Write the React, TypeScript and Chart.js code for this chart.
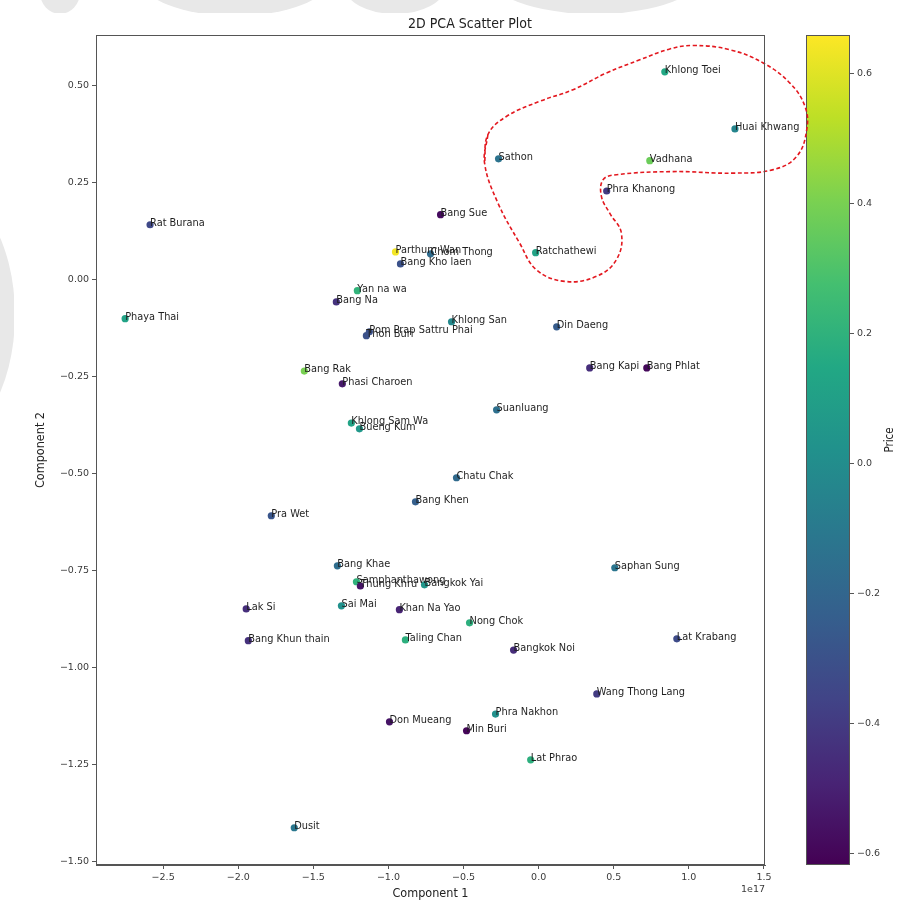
import React, { useEffect, useRef } from "react";
import { Chart, registerables } from "chart.js";
Chart.register(...registerables);

// ---------------- data ----------------
const districts = [
  "Khlong Toei", "Huai Khwang", "Vadhana", "Sathon", "Phra Khanong", "Ratchathewi",
  "Bang Sue", "Rat Burana", "Parthum Wan", "Chom Thong", "Bang Kho laen", "Yan na wa",
  "Bang Na", "Phaya Thai", "Pom Prap Sattru Phai", "Thon Buri", "Khlong San", "Din Daeng",
  "Bang Kapi", "Bang Phlat", "Bang Rak", "Phasi Charoen", "Suanluang", "Khlong Sam Wa",
  "Bueng Kum", "Chatu Chak", "Bang Khen", "Pra Wet", "Bang Khae", "Saphan Sung",
  "Samphanthawong", "Thung Khru", "Bangkok Yai", "Lak Si", "Sai Mai", "Khan Na Yao",
  "Nong Chok", "Lat Krabang", "Bang Khun thain", "Taling Chan", "Bangkok Noi",
  "Wang Thong Lang", "Phra Nakhon", "Don Mueang", "Min Buri", "Lat Phrao", "Dusit",
];
// Component 1 (x 1e17)
const pc1 = [
  0.84, 1.307, 0.74, -0.267, 0.453, -0.02,
  -0.653, -2.587, -0.953, -0.72, -0.92, -1.207,
  -1.347, -2.753, -1.127, -1.147, -0.58, 0.12,
  0.34, 0.72, -1.56, -1.307, -0.28, -1.247,
  -1.193, -0.547, -0.82, -1.78, -1.34, 0.507,
  -1.213, -1.187, -0.76, -1.947, -1.313, -0.927,
  -0.46, 0.92, -1.933, -0.887, -0.167,
  0.387, -0.287, -0.993, -0.48, -0.053, -1.627,
];
// Component 2
const pc2 = [
  0.536, 0.389, 0.307, 0.312, 0.229, 0.07,
  0.168, 0.142, 0.072, 0.067, 0.041, -0.028,
  -0.057, -0.10, -0.134, -0.144, -0.108, -0.121,
  -0.227, -0.227, -0.235, -0.268, -0.335, -0.369,
  -0.384, -0.51, -0.572, -0.608, -0.737, -0.742,
  -0.778, -0.789, -0.786, -0.848, -0.84, -0.85,
  -0.884, -0.925, -0.93, -0.928, -0.954,
  -1.067, -1.119, -1.139, -1.162, -1.237, -1.412,
];
// Price (colour scale)
const price = [
  0.15, -0.04, 0.37, -0.13, -0.40, 0.12,
  -0.58, -0.34, 0.64, -0.17, -0.30, 0.21,
  -0.43, 0.12, -0.30, -0.30, -0.02, -0.25,
  -0.45, -0.59, 0.40, -0.53, -0.15, 0.12,
  0.06, -0.18, -0.23, -0.28, -0.16, -0.12,
  0.20, -0.55, 0.05, -0.45, 0.02, -0.49,
  0.19, -0.33, -0.44, 0.19, -0.46,
  -0.40, 0.02, -0.55, -0.60, 0.19, -0.11,
];

const xTicks = [-2.5, -2.0, -1.5, -1.0, -0.5, 0.0, 0.5, 1.0, 1.5];
const yTicks = [0.5, 0.25, 0.0, -0.25, -0.5, -0.75, -1.0, -1.25, -1.5];
const cbTicks = [0.6, 0.4, 0.2, 0.0, -0.2, -0.4, -0.6];
const xMin = -2.947;
const xMax = 1.507;
const yMin = -1.508;
const yMax = 0.631;
const cbMin = -0.618;
const cbMax = 0.66;

// hand-drawn red dashed outline (data coordinates)
const outlineX = [
  -0.338, -0.36, -0.271, -0.127, -0.015, 0.173, 0.385, 0.518, 0.551, 0.473, 0.418, 0.429,
  0.518, 0.895, 1.295, 1.562, 1.718, 1.785, 1.773, 1.673, 1.495, 1.273, 1.029, 0.873,
  0.673, 0.451, 0.229, 0.007, -0.215, -0.338, -0.36,
];
const outlineY = [
  0.374, 0.301, 0.198, 0.095, 0.026, -0.004, 0.009, 0.052, 0.12, 0.172, 0.215, 0.258,
  0.271, 0.279, 0.275, 0.284, 0.318, 0.387, 0.447, 0.507, 0.559, 0.593, 0.604, 0.595,
  0.567, 0.533, 0.49, 0.46, 0.421, 0.374, 0.301,
];

const viridisStops = [
  "#440154", "#482475", "#414487", "#355f8d", "#2a788e", "#21918c",
  "#22a884", "#44bf70", "#7ad151", "#bddf26", "#fde725",
];

// ---------------- helpers ----------------
function hexToRgb(h: string) {
  return [parseInt(h.slice(1, 3), 16), parseInt(h.slice(3, 5), 16), parseInt(h.slice(5, 7), 16)];
}
function viridis(t: number) {
  const c = Math.max(0, Math.min(1, t)) * (viridisStops.length - 1);
  const i = Math.min(Math.floor(c), viridisStops.length - 2);
  const f = c - i;
  const a = hexToRgb(viridisStops[i]);
  const b = hexToRgb(viridisStops[i + 1]);
  const m = a.map((v, k) => Math.round(v + (b[k] - v) * f));
  return `rgb(${m[0]},${m[1]},${m[2]})`;
}
const colorFor = (p: number) => viridis((p - cbMin) / (cbMax - cbMin));
const fmt = (v: number, d: number) => v.toFixed(d).replace("-", "\u2212");

const TICK_FONT = { family: "'DejaVu Sans', sans-serif", size: 9.5 };
const TICK_COLOR = "#3a3a3a";
const AXIS_COLOR = "#555555";
const COND_FONT = "'DejaVu Sans Condensed', 'Liberation Sans Narrow', 'DejaVu Sans', sans-serif";

const W = 907;
const H = 901;

export default function App() {
  const mainRef = useRef<HTMLCanvasElement>(null);
  const cbRef = useRef<HTMLCanvasElement>(null);

  useEffect(() => {
    const labelPlugin = {
      id: "pointLabels",
      afterDatasetsDraw(chart: any) {
        const ctx = chart.ctx;
        const meta = chart.getDatasetMeta(0);
        ctx.save();
        ctx.font = "9.8px 'DejaVu Sans', sans-serif";
        ctx.fillStyle = "#1e1e1e";
        ctx.textAlign = "left";
        ctx.textBaseline = "alphabetic";
        meta.data.forEach((el: any, i: number) => {
          ctx.fillText(districts[i], el.x, el.y + 1);
        });
        ctx.restore();
      },
      afterDraw(chart: any) {
        const ctx = chart.ctx;
        const { left, right, top, bottom } = chart.chartArea;
        ctx.save();
        ctx.strokeStyle = AXIS_COLOR;
        ctx.lineWidth = 1;
        ctx.strokeRect(left + 0.5, top + 0.5, right - left - 1, bottom - top - 1);
        ctx.fillStyle = "#222222";
        ctx.textAlign = "center";
        ctx.textBaseline = "middle";
        ctx.font = `14px ${COND_FONT}`;
        ctx.fillText("2D PCA Scatter Plot", 470, 24);
        ctx.font = "9.5px 'DejaVu Sans', sans-serif";
        ctx.fillStyle = TICK_COLOR;
        ctx.textAlign = "right";
        ctx.fillText("1e17", right, 890);
        ctx.restore();
      },
    };

    const main = new Chart(mainRef.current as HTMLCanvasElement, {
      type: "scatter",
      data: {
        datasets: [
          {
            data: pc1.map((x, i) => ({ x, y: pc2[i] })),
            backgroundColor: price.map(colorFor),
            borderWidth: 0,
            pointRadius: 3.6,
            pointHoverRadius: 3.6,
            order: 1,
          } as any,
          {
            type: "line",
            data: outlineX.map((x, i) => ({ x, y: outlineY[i] })),
            borderColor: "#e3181f",
            borderWidth: 1.6,
            borderDash: [4, 2.5],
            pointRadius: 0,
            tension: 0.4,
            fill: false,
            clip: false,
            order: 0,
          } as any,
        ],
      },
      options: {
        animation: false,
        responsive: false,
        devicePixelRatio: 1,
        events: [],
        layout: { padding: { left: 0, top: 35, right: W - 765, bottom: 0 } },
        plugins: { legend: { display: false }, tooltip: { enabled: false } },
        scales: {
          x: {
            type: "linear",
            min: xMin,
            max: xMax,
            afterBuildTicks: (s: any) => {
              s.ticks = xTicks.map((v) => ({ value: v }));
            },
            afterFit: (s: any) => {
              s.height = H - 865;
            },
            grid: { drawOnChartArea: false, drawTicks: true, tickLength: 4, tickColor: AXIS_COLOR },
            border: { display: true, color: AXIS_COLOR },
            ticks: {
              font: TICK_FONT,
              color: TICK_COLOR,
              padding: 3,
              maxRotation: 0,
              autoSkip: false,
              callback: (v: any) => fmt(Number(v), 1),
            },
            title: {
              display: true,
              text: "Component 1",
              color: "#222222",
              font: { family: COND_FONT, size: 12.5 },
              padding: { top: 0, bottom: 0 },
            },
          },
          y: {
            type: "linear",
            min: yMin,
            max: yMax,
            afterBuildTicks: (s: any) => {
              s.ticks = yTicks.map((v) => ({ value: v }));
            },
            afterFit: (s: any) => {
              s.width = 96;
            },
            grid: { drawOnChartArea: false, drawTicks: true, tickLength: 4, tickColor: AXIS_COLOR },
            border: { display: true, color: AXIS_COLOR },
            ticks: {
              font: TICK_FONT,
              color: TICK_COLOR,
              padding: 3,
              autoSkip: false,
              callback: (v: any) => fmt(Number(v), 2),
            },
            title: {
              display: true,
              text: "Component 2",
              color: "#222222",
              font: { family: COND_FONT, size: 12.5 },
              padding: { top: 33, bottom: 0 },
            },
          },
        },
      } as any,
      plugins: [labelPlugin],
    });

    const gradientPlugin = {
      id: "cbGradient",
      beforeDatasetsDraw(chart: any) {
        const ctx = chart.ctx;
        const ys = chart.scales.y;
        const { left, right } = chart.chartArea;
        const y0 = ys.getPixelForValue(cbMin);
        const y1 = ys.getPixelForValue(cbMax);
        const g = ctx.createLinearGradient(0, y0, 0, y1);
        viridisStops.forEach((c, i) => g.addColorStop(i / (viridisStops.length - 1), c));
        ctx.save();
        ctx.fillStyle = g;
        ctx.fillRect(left, y1, right - left, y0 - y1);
        ctx.strokeStyle = AXIS_COLOR;
        ctx.lineWidth = 1;
        ctx.strokeRect(left + 0.5, y1 + 0.5, right - left - 1, y0 - y1 - 1);
        ctx.fillStyle = "#222222";
        ctx.font = `11.5px ${COND_FONT}`;
        ctx.textAlign = "center";
        ctx.textBaseline = "middle";
        ctx.translate(890, 440);
        ctx.rotate(-Math.PI / 2);
        ctx.fillText("Price", 0, 0);
        ctx.restore();
      },
    };

    const cb = new Chart(cbRef.current as HTMLCanvasElement, {
      type: "bar",
      data: { labels: [""], datasets: [] },
      options: {
        animation: false,
        responsive: false,
        devicePixelRatio: 1,
        events: [],
        layout: { padding: { left: 806, top: 35, right: 0, bottom: H - 865 } },
        plugins: { legend: { display: false }, tooltip: { enabled: false } },
        scales: {
          x: { display: false },
          y: {
            type: "linear",
            position: "right",
            min: cbMin,
            max: cbMax,
            afterBuildTicks: (s: any) => {
              s.ticks = cbTicks.map((v) => ({ value: v }));
            },
            afterFit: (s: any) => {
              s.width = W - 850;
            },
            grid: { drawOnChartArea: false, drawTicks: true, tickLength: 4, tickColor: AXIS_COLOR },
            border: { display: false },
            ticks: {
              font: TICK_FONT,
              color: TICK_COLOR,
              padding: 3,
              autoSkip: false,
              callback: (v: any) => fmt(Number(v), 1),
            },
          },
        },
      } as any,
      plugins: [gradientPlugin],
    });

    return () => {
      main.destroy();
      cb.destroy();
    };
  }, []);

  const cstyle: React.CSSProperties = {
    position: "absolute",
    left: 0,
    top: 0,
    width: W,
    height: H,
  };
  const blob = (l: number, t: number, w: number, h: number): React.CSSProperties => ({
    position: "absolute",
    left: l,
    top: t,
    width: w,
    height: h,
    borderRadius: "50%",
    background: "#e8e8e8",
  });
  return (
    <div style={{ position: "fixed", left: 0, top: 0, width: W, height: H, background: "#ffffff", overflow: "hidden" }}>
      {/* faint watermark behind the figure */}
      <div style={blob(40, -30, 40, 44)} />
      <div style={blob(140, -60, 190, 76)} />
      <div style={blob(345, -40, 100, 54)} />
      <div style={blob(485, -70, 220, 84)} />
      <div style={blob(-150, 180, 165, 270)} />
      <div style={{ position: "absolute", left: 14, top: 13, width: W - 14, height: H - 13, background: "#ffffff" }} />
      <canvas ref={cbRef} width={W} height={H} style={{ ...cstyle, zIndex: 1 }} />
      <canvas ref={mainRef} width={W} height={H} style={{ ...cstyle, zIndex: 2 }} />
    </div>
  );
}
